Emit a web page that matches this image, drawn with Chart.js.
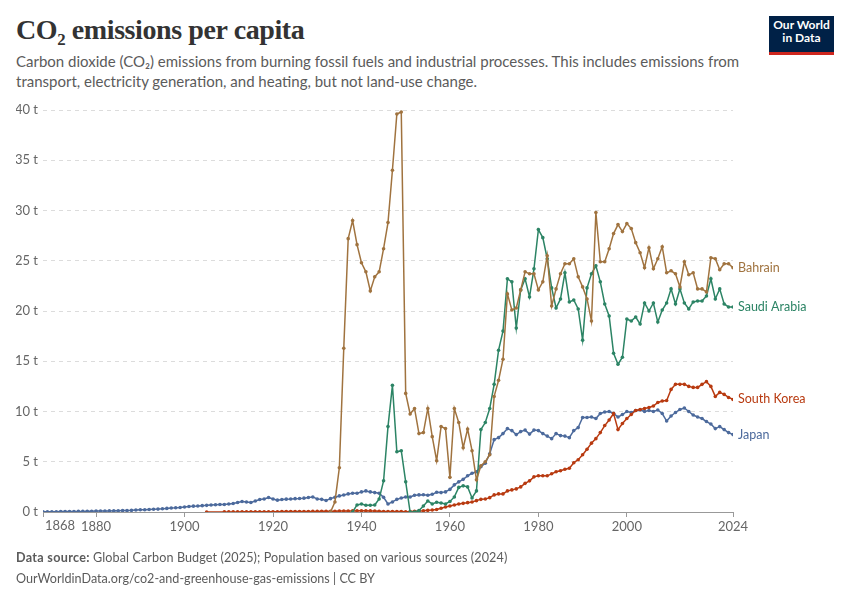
<!DOCTYPE html>
<html lang="en">
<head>
  <meta charset="UTF-8">
  <title>CO2 emissions per capita</title>
  <script src="https://cdn.jsdelivr.net/npm/chart.js"></script>
  <style>
    html, body { margin: 0; padding: 0; background: #fff; }
    body { width: 850px; height: 600px; position: relative; overflow: hidden; font-family: Lato, 'Open Sans', sans-serif; }
    #chart { position: absolute; left: 0; top: 0; }
    .title {
      position: absolute; left: 16px; top: 14px;
      font-family: 'Liberation Serif', 'DejaVu Serif', serif; font-weight: bold;
      font-size: 28px; color: #333; letter-spacing: -0.4px;
    }
    .subtitle {
      position: absolute; left: 16px; top: 51px; width: 760px;
      font-size: 15px; line-height: 20px; color: #5b5b5b;
    }
    .logo {
      position: absolute; left: 769px; top: 16px; width: 65px; height: 33px;
      background: #002147; border-bottom: 3px solid #ce261e;
      color: #fff; font-weight: bold; font-size: 12px; line-height: 12.5px;
      text-align: center; padding-top: 3px; box-sizing: content-box;
    }
    .footer {
      position: absolute; left: 16px; top: 547px;
      font-size: 12.6px; line-height: 21px; color: #5b5b5b;
    }
    .footer b { font-weight: bold; letter-spacing: 0.3px; }
    .footer span { letter-spacing: 0.1px; }
  </style>
</head>
<body>
  <div class="title">CO₂ emissions per capita</div>
  <div class="subtitle">Carbon dioxide (CO₂) emissions from burning fossil fuels and industrial processes. This includes emissions from<br>transport, electricity generation, and heating, but not land-use change.</div>
  <div class="logo">Our World<br>in Data</div>
  <canvas id="chart" width="850" height="600"></canvas>
  <div class="footer"><b>Data source:</b> <span>Global Carbon Budget (2025); Population based on various sources (2024)</span><br>OurWorldinData.org/co2-and-greenhouse-gas-emissions | CC BY</div>

  <script>
    // tick labels
    const xTicks = [1868, 1880, 1900, 1920, 1940, 1960, 1980, 2000, 2024];
    const yTicks = [0, 5, 10, 15, 20, 25, 30, 35, 40];

    // Japan, yearly from 1868
    const japanStart = 1868;
    const japan = [
      0.02, 0.02, 0.03, 0.03, 0.04, 0.04, 0.05, 0.05, 0.06, 0.06, 0.07, 0.08,
      0.09, 0.1, 0.1, 0.11, 0.12, 0.13, 0.14, 0.15, 0.17, 0.2, 0.22, 0.23,
      0.25, 0.27, 0.29, 0.32, 0.36, 0.4, 0.42, 0.45, 0.5,
      0.55, 0.58, 0.6, 0.63, 0.66, 0.7, 0.72, 0.74, 0.75, 0.8,
      0.85, 0.95, 1.05, 1.0, 0.95, 1.1, 1.25, 1.3, 1.45, 1.3,
      1.18, 1.25, 1.28, 1.3, 1.33, 1.35, 1.38, 1.45, 1.5, 1.3,
      1.26, 1.15, 1.33, 1.46, 1.6, 1.69, 1.8, 1.86, 1.86, 2.0,
      2.1, 2.0, 1.93, 1.86, 1.46, 0.8, 1.0, 1.26, 1.4, 1.5,
      1.5, 1.66, 1.7, 1.72, 1.66, 1.76, 1.96, 1.93, 2.0, 2.25,
      2.7, 3.0, 3.25, 3.6, 3.85, 4.0, 4.5, 4.85, 5.8, 7.2,
      7.4, 7.8, 8.3, 8.1, 7.7, 8.0, 8.15, 7.75, 8.15, 8.1,
      7.8, 7.55, 7.3, 7.8, 7.6, 7.55, 7.4, 8.1, 8.4, 9.4,
      9.4, 9.45, 9.3, 9.8, 9.95, 10.0, 9.8, 9.45, 9.7, 10.0,
      9.9, 10.1, 10.15, 10.0, 10.1, 10.0, 10.15, 9.8, 9.05, 9.55,
      9.9, 10.2, 10.35, 10.0, 9.65, 9.45, 9.3, 9.0, 8.75, 8.3,
      8.5, 8.2, 7.9, 7.7
    ];

    // Bahrain, yearly from 1933
    const bahrainStart = 1933;
    const bahrain = [
      0, 1.0, 4.4, 16.3, 27.2, 29.0, 26.6,
      24.8, 23.9, 22.0, 23.4, 23.9, 26.2, 28.8, 34.0, 39.6, 39.8,
      11.8, 9.75, 10.3, 7.8, 7.9, 10.3, 7.5, 5.1, 8.5, 8.3,
      3.45, 10.3, 8.9, 6.4, 8.25, 6.1, 3.2, 4.6, 5.0, 5.7,
      11.5, 13.1, 15.2, 21.7, 20.1, 20.3, 22.1, 23.9, 23.7, 23.7,
      22.1, 22.9, 25.5, 20.5, 22.2, 23.7, 24.7, 24.7, 25.2, 23.4,
      22.4, 21.2, 19.0, 29.8, 24.9, 24.9, 26.2, 27.7, 28.6, 27.9,
      28.7, 28.2, 26.8, 25.8, 24.3, 26.3, 24.2, 25.2, 26.4, 23.8,
      24.0, 23.7, 22.4, 24.9, 23.6, 23.8, 22.2, 22.2, 21.9, 25.3,
      25.2, 24.1, 24.7, 24.7, 24.3
    ];

    // Saudi Arabia, yearly from 1938
    const saudiStart = 1938;
    const saudi = [
      0, 0.7,
      0.8, 0.67, 0.67, 0.7, 1.3, 3.1, 8.5, 12.6, 6.0, 6.1,
      3.0, 0, 0, 0.15, 0.6, 1.1, 0.8, 0.97, 0.9, 0.8,
      1.05, 1.5, 2.45, 2.6, 2.5, 1.4, 2.1, 8.2, 8.9, 10.3,
      12.7, 16.1, 18.0, 23.2, 22.9, 18.3, 22.1, 23.2, 21.4, 24.2,
      28.1, 27.3, 25.2, 22.3, 20.3, 21.2, 23.8, 20.9, 21.1, 20.2,
      17.1, 22.3, 23.7, 24.5, 22.9, 20.7, 19.5, 15.8, 14.7, 15.4,
      19.2, 19.0, 19.4, 18.7, 20.8, 20.0, 20.8, 18.9, 20.1, 20.8,
      22.2, 20.7, 22.2, 20.8, 20.2, 20.9, 21.0, 21.0, 21.5, 23.2,
      21.2, 22.2, 20.7, 20.4, 20.4
    ];

    // South Korea, yearly from 1905 (no data 1906-1908)
    const koreaStart = 1905;
    const korea = [
      0, null, null, null, 0.01,
      0.01, 0.01, 0.01, 0.02, 0.02, 0.02, 0.02, 0.03, 0.03, 0.03,
      0.03, 0.03, 0.04, 0.04, 0.04, 0.04, 0.05, 0.05, 0.05, 0.06,
      0.06, 0.07, 0.07, 0.08, 0.08, 0.09, 0.1, 0.1, 0.11, 0.12,
      0.12, 0.12, 0.11, 0.1, 0.08, 0.05, 0.04, 0.04, 0.05, 0.04,
      0.03, 0.05, 0.08, 0.1, 0.13, 0.17, 0.2, 0.25, 0.37, 0.5,
      0.6, 0.7, 0.8, 0.86, 0.93, 1.0, 1.13, 1.26, 1.3, 1.43,
      1.7, 1.8, 1.8, 2.1, 2.2, 2.3, 2.5, 2.85, 3.1, 3.5,
      3.6, 3.6, 3.6, 3.8, 4.0, 4.1, 4.25, 4.35, 4.9, 5.2,
      5.7, 6.25, 6.85, 7.3, 7.9, 8.6, 9.15, 9.8, 8.2, 8.8,
      9.3, 9.7, 10.1, 10.2, 10.3, 10.4, 10.55, 10.9, 11.05, 11.1,
      12.2, 12.7, 12.7, 12.7, 12.5, 12.4, 12.4, 12.7, 12.97, 12.5,
      11.5, 11.9, 11.7, 11.4, 11.2
    ];

    const seriesNames = ['Bahrain', 'Saudi Arabia', 'South Korea', 'Japan'];
    const seriesColors = ['#a0733f', '#2c8465', '#b83a10', '#4c6a9c'];

    function toPoints(start, values) {
      return values.map((v, i) => ({ x: start + i, y: v }));
    }

    const seriesData = [
      toPoints(bahrainStart, bahrain),
      toPoints(saudiStart, saudi),
      toPoints(koreaStart, korea),
      toPoints(japanStart, japan)
    ];

    // line-end labels and the first year label
    const endLabels = {
      id: 'endLabels',
      afterDraw(chart) {
        const ctx = chart.ctx;
        const xs = chart.scales.x, ys = chart.scales.y;
        ctx.save();
        ctx.font = '12.5px Lato, sans-serif';
        ctx.textBaseline = 'middle';
        ctx.textAlign = 'left';
        chart.data.datasets.forEach((ds, i) => {
          const pts = ds.data.filter(p => p.y !== null);
          const last = pts[pts.length - 1];
          ctx.fillStyle = seriesColors[i];
          ctx.fillText(seriesNames[i], xs.getPixelForValue(last.x) + 5, ys.getPixelForValue(last.y));
        });
        ctx.font = '13px Lato, sans-serif';
        ctx.fillStyle = '#666';
        ctx.textBaseline = 'top';
        ctx.fillText(String(xTicks[0]), xs.getPixelForValue(xTicks[0]) + 2, chart.chartArea.bottom + 7);
        ctx.restore();
      }
    };

    new Chart(document.getElementById('chart'), {
      type: 'line',
      data: {
        datasets: seriesData.map((d, i) => ({
          label: seriesNames[i],
          data: d,
          borderColor: seriesColors[i],
          backgroundColor: seriesColors[i],
          borderWidth: 1.5,
          pointRadius: 1.8,
          pointBorderWidth: 0,
          pointHoverRadius: 0,
          spanGaps: true,
          tension: 0
        }))
      },
      options: {
        responsive: false,
        animation: false,
        events: [],
        layout: { padding: { left: 16, right: 117, top: 110, bottom: 58 } },
        plugins: { legend: { display: false }, tooltip: { enabled: false } },
        scales: {
          x: {
            type: 'linear',
            min: 1868,
            max: 2024,
            afterBuildTicks: s => { s.ticks = xTicks.map(v => ({ value: v })); },
            afterFit: s => { s.height = 30; },
            grid: { drawOnChartArea: false, drawTicks: true, tickLength: 5, color: '#999' },
            border: { color: '#999', width: 1 },
            ticks: {
              padding: 2,
              maxRotation: 0,
              autoSkip: false,
              color: '#666',
              font: { family: 'Lato', size: 13 },
              callback: v => (v === xTicks[0] ? '' : String(v))
            }
          },
          y: {
            min: 0,
            max: 40,
            afterBuildTicks: s => { s.ticks = yTicks.map(v => ({ value: v })); },
            afterFit: s => { s.width = 27; },
            grid: { color: '#dcdcdc', drawTicks: false, lineWidth: 1 },
            border: { display: false, dash: [4, 4] },
            ticks: {
              padding: 5,
              color: '#666',
              font: { family: 'Lato', size: 13 },
              callback: v => v + ' t'
            }
          }
        }
      },
      plugins: [endLabels]
    });
  </script>
</body>
</html>
